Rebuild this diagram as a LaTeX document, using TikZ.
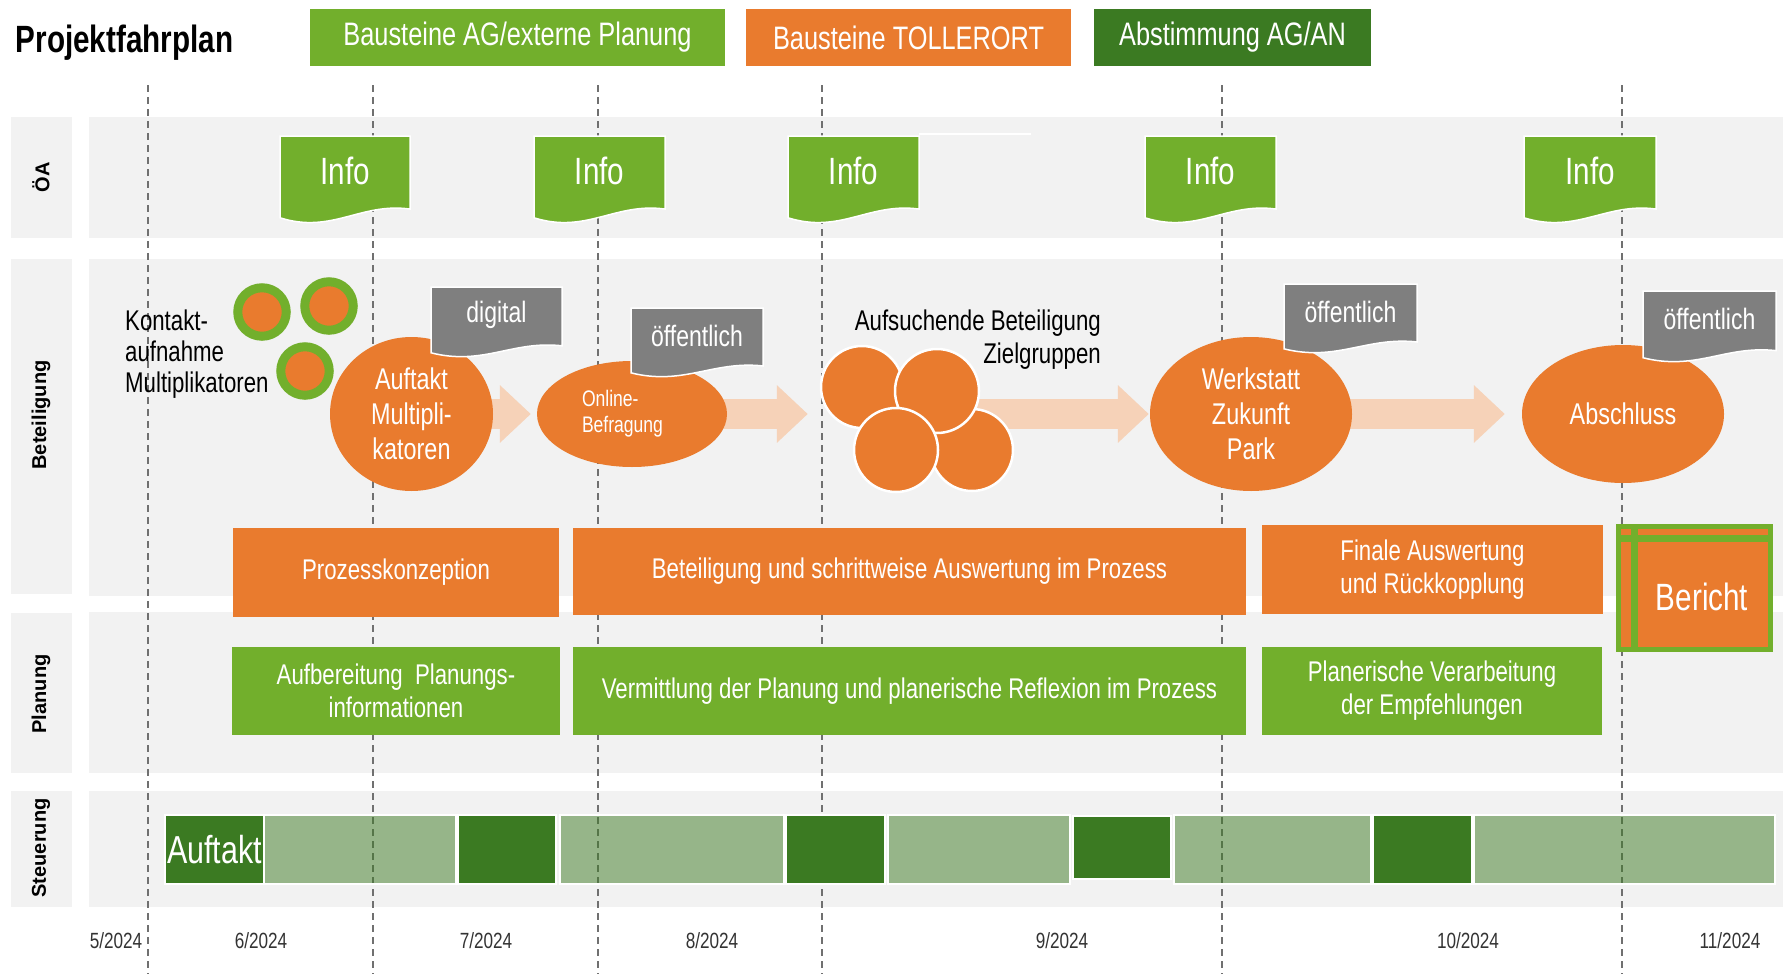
\documentclass[tikz,border=0pt]{standalone}
\usepackage{fontspec}
\setmainfont{Liberation Sans}[FakeStretch=0.78]
\newfontfamily\rowfont{Liberation Sans}
\usetikzlibrary{shapes.geometric,arrows.meta}
\pgfdeclarelayer{bg}
\pgfsetlayers{bg,main}
\definecolor{tollerort}{HTML}{E97B2E}
\definecolor{agreen}{HTML}{72AF2C}
\definecolor{andgreen}{HTML}{3B7A22}
\definecolor{flaggray}{HTML}{7F7F7F}
\definecolor{peach}{HTML}{F6D2B8}
\definecolor{bandgray}{HTML}{F2F2F2}
\definecolor{linegray}{HTML}{707070}
\definecolor{monthgray}{HTML}{333333}
% flag with wavy bottom: kind, left, top, width, height, name, text
\newcommand{\docflag}[7]{%
  \begin{scope}[shift={(#2,#3)}]
    \filldraw[#1shape] (0,0) -- (#4,0) -- (#4,0.84*#5)
      .. controls (0.62*#4,0.76*#5) and (0.4*#4,1.13*#5) .. (0,0.94*#5) -- cycle;
    \node[#1text] (#6) at (0.5*#4,0.4*#5) {#7};
  \end{scope}}

\begin{document}
\begin{tikzpicture}[x=1pt, y=-1pt,
  rowband/.style={fill=bandgray},
  monthline/.style={draw=linegray, line width=1.2, dash pattern=on 7pt off 5pt},
  legendbox/.style={minimum height=57, inner sep=0, text=white, font=\fontsize{32.5}{36}\selectfont},
  infoshape/.style={fill=agreen, draw=white, line width=1.5},
  infotext/.style={text=white, font=\fontsize{38}{40}\selectfont},
  tagshape/.style={fill=flaggray, draw=white, line width=1.5},
  tagtext/.style={text=white, font=\fontsize{29.5}{32}\selectfont},
  meeting/.style={ellipse, fill=tollerort, inner sep=0, text=white, align=center, font=\fontsize{30}{35}\selectfont},
  contactring/.style={circle, fill=tollerort, draw=agreen, line width=9, minimum size=48.5, inner sep=0},
  crowd/.style={circle, fill=tollerort, draw=white, line width=2.5, inner sep=0},
  taskbox/.style={rectangle, inner sep=0, text=white, align=center, font=\fontsize{28.5}{33}\selectfont},
  berichtbox/.style={rectangle, fill=tollerort, draw=agreen, line width=5, minimum width=152, minimum height=123},
  steerdark/.style={rectangle, fill=andgreen, draw=white, line width=1.5, minimum height=69, inner sep=0},
  steerlight/.style={rectangle, fill=andgreen, fill opacity=0.5, draw=white, line width=1.5, minimum height=69, inner sep=0},
  bigarrow/.style={draw=peach, line width=30, -{Triangle[width=56pt, length=31pt]}},
  monthlabel/.style={text=monthgray, font=\fontsize{22}{24}\selectfont},
  rowlabel/.style={rotate=90, font=\rowfont\bfseries\fontsize{20}{24}\selectfont},
  plaintext/.style={text=black, inner sep=0, font=\fontsize{28.5}{31}\selectfont}]
  \useasboundingbox (0,0) rectangle (1783,974);

  \begin{pgfonlayer}{bg}
  % rows
  \fill[rowband] (11,117) rectangle (72,238);
  \fill[rowband] (89,117) rectangle (1783,238);
  \fill[rowband] (11,259) rectangle (72,594);
  \fill[rowband] (89,259) rectangle (1783,596);
  \fill[rowband] (11,613) rectangle (72,773);
  \fill[rowband] (89,612) rectangle (1783,773);
  \fill[rowband] (11,791) rectangle (72,907);
  \fill[rowband] (89,791) rectangle (1783,907);
  \draw[white, line width=2] (919,134) -- (1031,134);
  % month borders
  \draw[monthline] (148,85) -- (148,974);
  \draw[monthline] (373,85) -- (373,974);
  \draw[monthline] (598,85) -- (598,974);
  \draw[monthline] (822,85) -- (822,974);
  \draw[monthline] (1222,85) -- (1222,974);
  \draw[monthline] (1622,85) -- (1622,974);
  \end{pgfonlayer}

  % title and legend
  \node[font=\bfseries\fontsize{38}{40}\selectfont] (title) at (124.5,43) {Projektfahrplan};
  \node[legendbox, fill=agreen, minimum width=415] (legendag) at (517.5,37.5) {Bausteine AG/externe Planung};
  \node[legendbox, fill=tollerort, minimum width=325] (legendto) at (908.5,37.5) {Bausteine TOLLERORT};
  \node[legendbox, fill=andgreen, minimum width=277] (legendan) at (1232.5,37.5) {Abstimmung AG/AN};

  % Steuerung
  \node[steerdark, minimum width=99, text=white, font=\fontsize{39}{40}\selectfont] (auftaktsteer) at (214.5,849.5) {Auftakt};
  \node[steerlight, minimum width=192] (steer2) at (360,849.5) {};
  \node[steerdark, minimum width=98] (steer3) at (507,849.5) {};
  \node[steerlight, minimum width=224] (steer4) at (672,849.5) {};
  \node[steerdark, minimum width=99] (steer5) at (835.5,849.5) {};
  \node[steerlight, minimum width=182] (steer6) at (979,849.5) {};
  \node[steerdark, minimum width=98, minimum height=63] (steer7) at (1122,847.5) {};
  \node[steerlight, minimum width=197] (steer8) at (1272.5,849.5) {};
  \node[steerdark, minimum width=99] (steer9) at (1422.5,849.5) {};
  \node[steerlight, minimum width=301] (steer10) at (1624.5,849.5) {};

  % Beteiligung
  \node[plaintext, align=left, anchor=west] (kontakt) at (125,354) {Kontakt-\\aufnahme\\Multiplikatoren};
  \node[contactring] (ring1) at (262,312) {};
  \node[contactring] (ring2) at (329,306) {};
  \node[contactring] (ring3) at (305,371) {};
  \node[meeting, minimum width=163, minimum height=154] (auftakt) at (411.5,414) {Auftakt\\Multipli-\\katoren};
  \node[meeting, minimum width=190, minimum height=106, align=left, text width=100, font=\fontsize{22.5}{26}\selectfont] (online) at (632,414) {Online-\\Befragung};
  \node[crowd, minimum size=82] (cl4) at (972,450) {};
  \node[crowd, minimum size=82] (cl1) at (862,387) {};
  \node[crowd, minimum size=84] (cl2) at (937,391) {};
  \node[crowd, minimum size=84] (cl3) at (896,450) {};
  \node[plaintext, align=right, anchor=east, font=\fontsize{28.5}{33}\selectfont] (aufsuchende) at (1101,340) {Aufsuchende Beteiligung\\Zielgruppen};
  \node[meeting, minimum width=202, minimum height=154] (werkstatt) at (1251,414) {Werkstatt\\Zukunft\\Park};
  \node[meeting, minimum width=202, minimum height=138] (abschluss) at (1623,414) {Abschluss};

  % flags
  \docflag{info}{280}{136}{130}{87}{info1}{Info}
  \docflag{info}{534}{136}{131}{87}{info2}{Info}
  \docflag{info}{788}{136}{131}{87}{info3}{Info}
  \docflag{info}{1145}{136}{131}{87}{info4}{Info}
  \docflag{info}{1524}{136}{132}{87}{info5}{Info}
  \docflag{tag}{431}{287}{131}{70}{digital}{digital}
  \docflag{tag}{631}{308}{132}{69}{oeff1}{öffentlich}
  \docflag{tag}{1284}{284}{133}{69}{oeff2}{öffentlich}
  \docflag{tag}{1643}{291}{133}{71}{oeff3}{öffentlich}

  \begin{pgfonlayer}{bg}
  \draw[bigarrow, shorten <=-12, shorten >=6] (auftakt) -- (online);
  \draw[bigarrow, shorten <=-12, shorten >=12] (online) -- (online -| cl1.west);
  \draw[bigarrow, shorten >=1] (cl2 |- werkstatt) -- (werkstatt);
  \draw[bigarrow, shorten <=-12, shorten >=17] (werkstatt) -- (abschluss);
  \end{pgfonlayer}

  % Bausteine
  \node[taskbox, fill=tollerort, minimum width=326, minimum height=89] (prozess) at (396,572.5) {Prozesskonzeption};
  \node[taskbox, fill=tollerort, minimum width=673, minimum height=87] (auswertung) at (909.5,571.5) {Beteiligung und schrittweise Auswertung im Prozess};
  \node[taskbox, fill=tollerort, minimum width=341, minimum height=89] (finale) at (1432.5,569.5) {Finale Auswertung\\und Rückkopplung};
  \node[berichtbox] (bericht) at (1694.5,588) {};
  \draw[agreen, line width=7] ([yshift=-14.5]bericht.north west) -- ([yshift=-14.5]bericht.north east);
  \draw[agreen, line width=7] ([xshift=18]bericht.north west) -- ([xshift=18]bericht.south west);
  \node[text=white, font=\fontsize{38}{40}\selectfont] (berichttext) at (1702,597) {Bericht};

  \node[taskbox, fill=agreen, minimum width=328, minimum height=88] (aufbereitung) at (396,691) {Aufbereitung~ Planungs-\\informationen};
  \node[taskbox, fill=agreen, minimum width=673, minimum height=88] (vermittlung) at (909.5,691) {Vermittlung der Planung und planerische Reflexion im Prozess};
  \node[taskbox, fill=agreen, minimum width=340, minimum height=88] (verarbeitung) at (1432,691) {Planerische Verarbeitung\\der Empfehlungen};

  % rows and months
  \node[rowlabel] (rowoa) at (41,177) {ÖA};
  \node[rowlabel] (rowbet) at (41,415) {Beteiligung};
  \node[rowlabel] (rowplan) at (41,694) {Planung};
  \node[rowlabel] (rowsteu) at (41,848) {Steuerung};

  \node[monthlabel] (m5) at (116,941) {5/2024};
  \node[monthlabel] (m6) at (261,941) {6/2024};
  \node[monthlabel] (m7) at (486,941) {7/2024};
  \node[monthlabel] (m8) at (712,941) {8/2024};
  \node[monthlabel] (m9) at (1062,941) {9/2024};
  \node[monthlabel] (m10) at (1468,941) {10/2024};
  \node[monthlabel] (m11) at (1730,941) {11/2024};
\end{tikzpicture}
\end{document}
